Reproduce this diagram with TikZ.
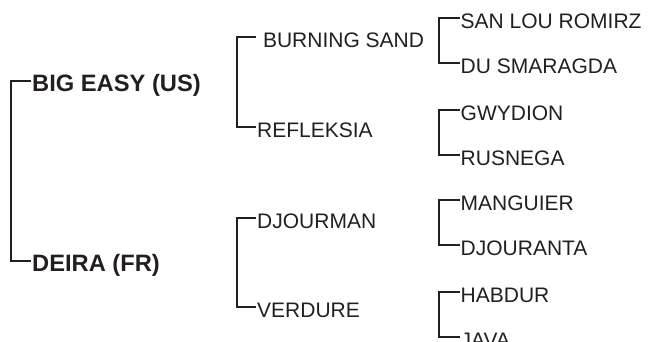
\documentclass[tikz,border=0pt]{standalone}
\usepackage{fontspec}
\setmainfont{Liberation Sans}
\usepackage{xcolor}
\usepackage{tikz}
\usetikzlibrary{positioning}
\definecolor{ink}{HTML}{231F20}
\tikzset{
  horse/.style={anchor=west,inner xsep=1pt,inner ysep=0pt,text height=21pt,text depth=0pt,
    text=ink,font=\fontsize{21}{24}\selectfont},
  sire/.style={horse,font=\bfseries\fontsize{23.7}{26}\selectfont},
  bracket/.style={draw=ink,line width=2pt,line join=miter}
}

\begin{document}
\begin{tikzpicture}[x=1pt,y=-1pt]
  \useasboundingbox (0,0) rectangle (648,341);
  % first generation
  \node[sire] (bigeasy) at (31,81) {BIG EASY (US)};
  \node[sire] (deira) at (31,261) {DEIRA (FR)};
  % second generation
  \foreach \name/\y/\label in {
    burning/37/\ BURNING SAND,
    refleksia/127/REFLEKSIA,
    djourman/218/DJOURMAN,
    verdure/307/VERDURE
  } {
    \node[horse] (\name) at (256,\y) {\label};
  }
  % third generation
  \foreach \name/\y/\label in {
    sanlou/18/SAN LOU ROMIRZ,
    smaragda/63/DU SMARAGDA,
    gwydion/110/GWYDION,
    rusnega/155/RUSNEGA,
    manguier/200/MANGUIER,
    djouranta/245/DJOURANTA,
    habdur/292/HABDUR,
    java/337/JAVA
  } {
    \node[horse] (\name) at (459.5,\y) {\label};
  }
  % brackets
  \foreach \up/\down/\gap in {
    bigeasy/deira/20,
    burning/refleksia/19,
    djourman/verdure/19,
    sanlou/smaragda/21,
    gwydion/rusnega/21,
    manguier/djouranta/21,
    habdur/java/21
  } {
    \draw[bracket] (\up.west) -- ++(-\gap,0) |- (\down.west);
  }
\end{tikzpicture}
\end{document}
